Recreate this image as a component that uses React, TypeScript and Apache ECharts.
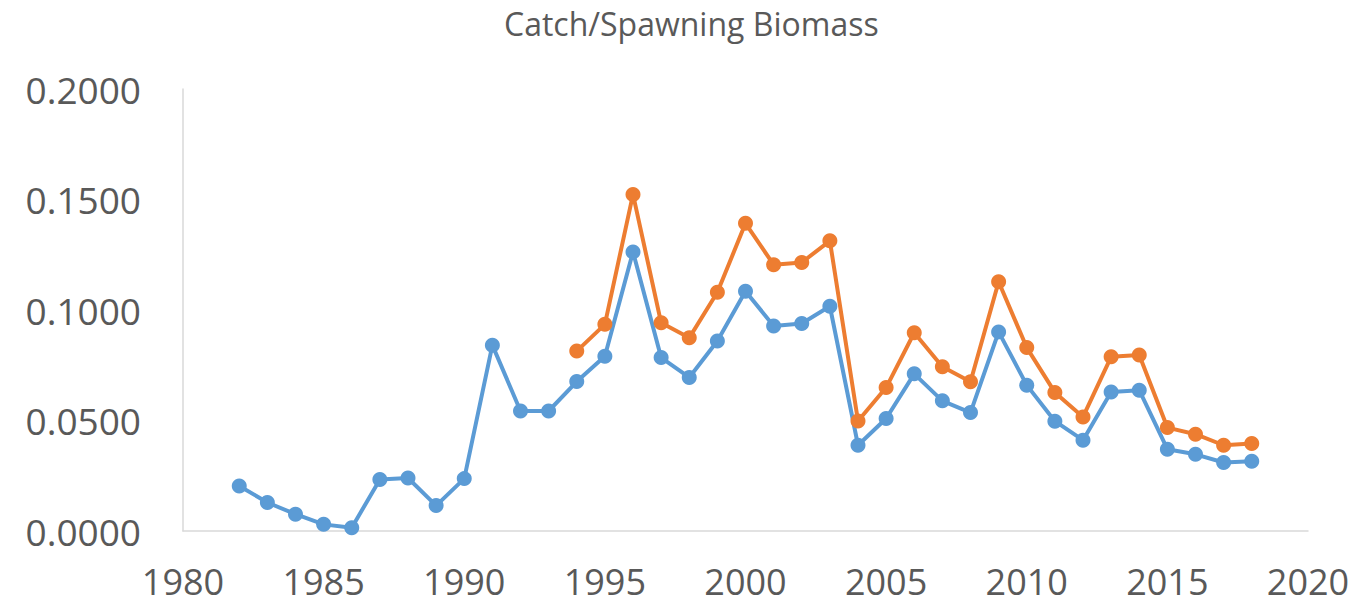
import React, { useEffect, useRef } from "react";
import * as echarts from "echarts";

const title = "Catch/Spawning Biomass";
const blueYears = [1982,1983,1984,1985,1986,1987,1988,1989,1990,1991,1992,1993,1994,1995,1996,1997,1998,1999,2000,2001,2002,2003,2004,2005,2006,2007,2008,2009,2010,2011,2012,2013,2014,2015,2016,2017,2018];
const blueValues = [0.0204,0.0129,0.0076,0.0030,0.0015,0.0233,0.0240,0.0115,0.0237,0.0841,0.0543,0.0543,0.0676,0.0791,0.1263,0.0785,0.0695,0.0860,0.1085,0.0928,0.0939,0.1017,0.0388,0.0509,0.0711,0.0589,0.0536,0.0901,0.0660,0.0497,0.0411,0.0629,0.0637,0.0370,0.0347,0.0310,0.0316];
const orangeYears = [1994,1995,1996,1997,1998,1999,2000,2001,2002,2003,2004,2005,2006,2007,2008,2009,2010,2011,2012,2013,2014,2015,2016,2017,2018];
const orangeValues = [0.0814,0.0935,0.1523,0.0942,0.0874,0.1080,0.1392,0.1205,0.1215,0.1313,0.0498,0.0649,0.0897,0.0743,0.0675,0.1128,0.0830,0.0627,0.0516,0.0788,0.0796,0.0468,0.0438,0.0388,0.0396];

const FONT = "'Open Sans', 'Noto Sans', sans-serif";

export default function App() {
  const ref = useRef<HTMLDivElement>(null);
  useEffect(() => {
    const chart = echarts.init(ref.current!, null, { renderer: "svg" });
    chart.setOption({
      animation: false,
      backgroundColor: "#ffffff",
      title: {
        text: title,
        left: 499,
        top: 2,
        textStyle: { fontFamily: FONT, fontSize: 32, fontWeight: "normal", color: "#595959" },
      },
      grid: { left: 183, right: 55, top: 89, bottom: 80, containLabel: false },
      xAxis: {
        type: "value",
        min: 1980,
        max: 2020,
        interval: 5,
        axisLine: { show: true, lineStyle: { color: "#d9d9d9", width: 1.5 } },
        axisTick: { show: false },
        splitLine: { show: false },
        axisLabel: { fontFamily: FONT, fontSize: 36, color: "#595959", margin: 32, formatter: (v: number) => String(v) },
      },
      yAxis: {
        type: "value",
        min: 0,
        max: 0.2,
        interval: 0.05,
        axisLine: { show: true, lineStyle: { color: "#d9d9d9", width: 1.5 } },
        axisTick: { show: false },
        splitLine: { show: false },
        axisLabel: { fontFamily: FONT, fontSize: 37, color: "#595959", margin: 42, formatter: (v: number) => v.toFixed(4) },
      },
      series: [
        {
          type: "line",
          data: blueYears.map((y, i) => [y, blueValues[i]]),
          symbol: "circle",
          symbolSize: 15,
          lineStyle: { color: "#5b9bd5", width: 4 },
          itemStyle: { color: "#5b9bd5" },
        },
        {
          type: "line",
          data: orangeYears.map((y, i) => [y, orangeValues[i]]),
          symbol: "circle",
          symbolSize: 15,
          lineStyle: { color: "#ed7d31", width: 4 },
          itemStyle: { color: "#ed7d31" },
        },
      ],
    });
    return () => chart.dispose();
  }, []);
  return <div ref={ref} style={{ width: 1363, height: 611, position: "absolute", left: 0, top: 0 }} />;
}
